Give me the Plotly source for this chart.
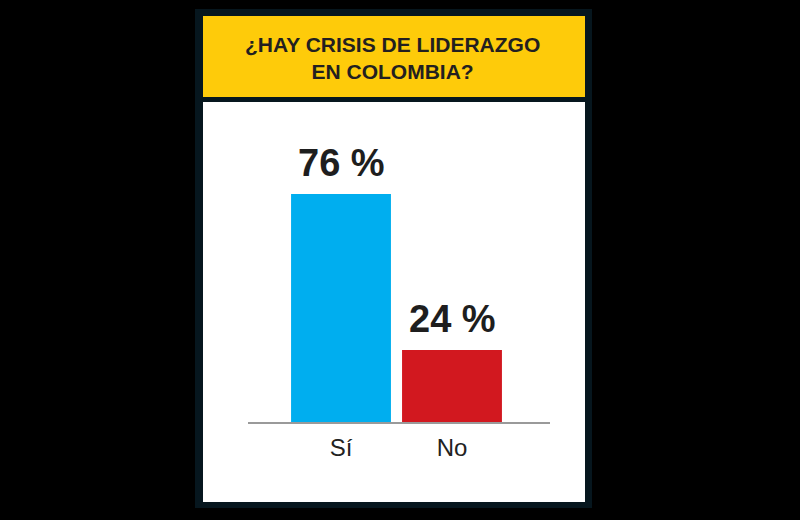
import plotly.graph_objects as go

categories = ["Sí", "No"]
values = [76, 24]
colors = ["#00aeef", "#d2181f"]
title_lines = ["¿HAY CRISIS DE LIDERAZGO", "EN COLOMBIA?"]

W, H = 800, 520

def px(x):
    return x / W

def py(y):
    return 1 - y / H

fig = go.Figure()
fig.add_trace(go.Bar(
    x=categories, y=values,
    marker=dict(color=colors, line=dict(width=0)),
    hoverinfo="skip",
))

shapes = [
    dict(type="rect", xref="paper", yref="paper", x0=px(195), x1=px(592), y0=py(508), y1=py(9),
         fillcolor="#06161e", line=dict(width=0), layer="below"),
    dict(type="rect", xref="paper", yref="paper", x0=px(203), x1=px(585), y0=py(97), y1=py(16),
         fillcolor="#fecb0a", line=dict(width=0), layer="below"),
    dict(type="rect", xref="paper", yref="paper", x0=px(203), x1=px(585), y0=py(502), y1=py(102),
         fillcolor="#ffffff", line=dict(width=0), layer="below"),
]

annotations = [dict(
    xref="paper", yref="paper", x=px(392), y=py(58),
    text="<br>".join(title_lines), showarrow=False,
    font=dict(family="Liberation Sans, Arial, sans-serif", size=21, color="#231f20", weight="bold"),
    align="center", xanchor="center", yanchor="middle",
)]
for c, v in zip(categories, values):
    annotations.append(dict(
        x=c, y=v, xref="x", yref="y", text=f"{v} %", showarrow=False,
        xanchor="center", yanchor="bottom", yshift=8,
        font=dict(family="Liberation Sans, Arial, sans-serif", size=38, color="#1e1e1e", weight="bold"),
    ))

fig.update_layout(
    width=W, height=H,
    margin=dict(l=0, r=0, t=0, b=0),
    paper_bgcolor="#000000",
    plot_bgcolor="rgba(0,0,0,0)",
    showlegend=False,
    bargap=0.1,
    shapes=shapes,
    annotations=annotations,
    xaxis=dict(
        domain=[px(248), px(550)],
        range=[-0.838, 1.883],
        showline=True, linecolor="#9a9a9a", linewidth=1.5,
        showgrid=False, zeroline=False,
        tickfont=dict(family="Liberation Sans, Arial, sans-serif", size=24, color="#222222"),
        ticks="", ticklabelstandoff=3,
    ),
    yaxis=dict(
        domain=[py(422), py(102)],
        range=[0, 106.67],
        visible=False,
    ),
)

fig.write_html(
    "out.html",
    config={"displayModeBar": False},
    post_script="document.body.style.margin='0';document.body.style.background='#000';",
)
